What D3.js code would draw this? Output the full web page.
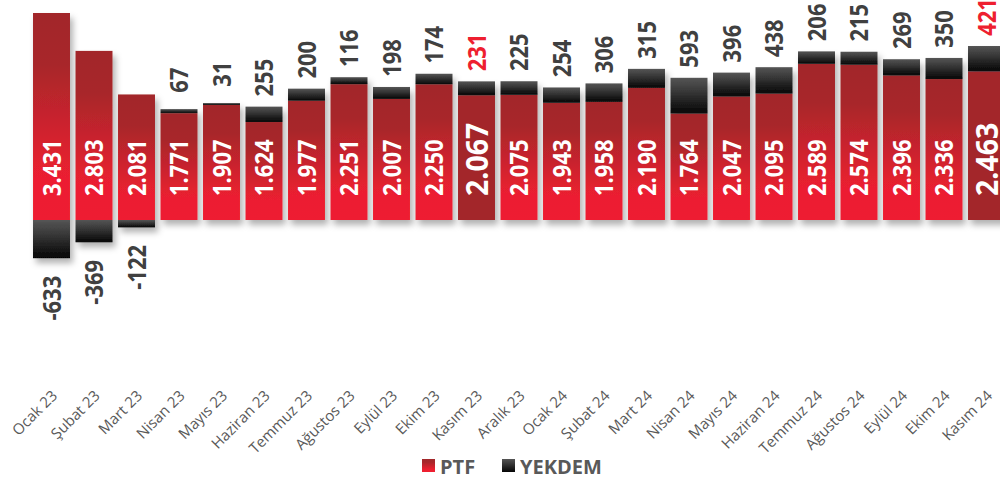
<!DOCTYPE html>
<html>
<head>
<meta charset="UTF-8">
<title>PTF ve YEKDEM</title>
<script src="https://d3js.org/d3.v7.min.js"></script>
<style>
  body { margin: 0; background: #fff; }
  svg { display: block; font-family: "Open Sans", sans-serif; }
</style>
</head>
<body>
<svg width="1000" height="482"></svg>
<script>
// monthly values (TL/MWh)
var months = ["Ocak 23", "Şubat 23", "Mart 23", "Nisan 23", "Mayıs 23", "Haziran 23", "Temmuz 23",
  "Ağustos 23", "Eylül 23", "Ekim 23", "Kasım 23", "Aralık 23", "Ocak 24", "Şubat 24", "Mart 24",
  "Nisan 24", "Mayıs 24", "Haziran 24", "Temmuz 24", "Ağustos 24", "Eylül 24", "Ekim 24", "Kasım 24"];
var ptf = [3431, 2803, 2081, 1771, 1907, 1624, 1977, 2251, 2007, 2250, 2067, 2075,
  1943, 1958, 2190, 1764, 2047, 2095, 2589, 2574, 2396, 2336, 2463];
var yekdem = [-633, -369, -122, 67, 31, 255, 200, 116, 198, 174, 231, 225,
  254, 306, 315, 593, 396, 438, 206, 215, 269, 350, 421];
var highlight = ["Kasım 23", "Kasım 24"];
var seriesNames = ["PTF", "YEKDEM"];

var data = months.map(function(m, i) {
  return { month: m, ptf: ptf[i], yek: yekdem[i], hi: highlight.indexOf(m) >= 0 };
});

var tr = d3.formatLocale({ decimal: ",", thousands: ".", grouping: [3], currency: ["", ""], minus: "-" });
var fmt = tr.format(",d");

var svg = d3.select("svg");
var defs = svg.append("defs");

function grad(id, stops) {
  var g = defs.append("linearGradient").attr("id", id)
    .attr("x1", 0).attr("y1", 0).attr("x2", 0).attr("y2", 1);
  stops.forEach(function(s) {
    g.append("stop").attr("offset", s[0]).attr("stop-color", s[1]);
  });
}
grad("redGrad", [[0, "#a2282b"], [0.25, "#a8272b"], [0.8, "#ec1f30"], [1, "#ee1f30"]]);
grad("blackGrad", [[0, "#555555"], [0.35, "#3a3a3a"], [1, "#050505"]]);

var f = defs.append("filter").attr("id", "shadow")
  .attr("x", "-20%").attr("y", "-10%").attr("width", "150%").attr("height", "130%");
f.append("feDropShadow").attr("dx", 3).attr("dy", 5).attr("stdDeviation", 3)
  .attr("flood-color", "#000").attr("flood-opacity", 0.3);

var x = d3.scaleBand()
  .domain(months)
  .range([30.25, 30.25 + months.length * 42.5])
  .paddingInner(0.13)
  .paddingOuter(0.065);

var y = d3.scaleLinear()
  .domain([0, 3431])
  .range([220, 13]);

// bars
var bars = svg.append("g").selectAll("g")
  .data(data)
  .enter().append("g")
    .attr("filter", "url(#shadow)");

bars.append("rect")
  .attr("x", function(d) { return x(d.month); })
  .attr("width", x.bandwidth())
  .attr("y", function(d) { return y(d.ptf); })
  .attr("height", function(d) { return y(0) - y(d.ptf); })
  .attr("fill", function(d) { return d.hi ? "#a3282b" : "url(#redGrad)"; });

bars.append("rect")
  .attr("x", function(d) { return x(d.month); })
  .attr("width", x.bandwidth())
  .attr("y", function(d) { return d.yek >= 0 ? y(d.ptf + d.yek) : y(0); })
  .attr("height", function(d) { return Math.abs(y(0) - y(d.yek)); })
  .attr("fill", "url(#blackGrad)");

// labels
function cx(d) { return x(d.month) + x.bandwidth() / 2; }

svg.append("g").selectAll("text")
  .data(data)
  .enter().append("text")
    .attr("transform", function(d) {
      var s = d.hi ? "scale(0.92,1)" : "scale(0.88,1)";
      return "translate(" + cx(d) + "," + (y(0) - 24) + ") rotate(-90) " + s;
    })
    .attr("dy", "0.36em")
    .attr("text-anchor", "start")
    .attr("font-weight", "bold")
    .attr("font-size", function(d) { return d.hi ? "31px" : "25px"; })
    .attr("fill", "#fff")
    .text(function(d) { return fmt(d.ptf); });

svg.append("g").selectAll("text")
  .data(data)
  .enter().append("text")
    .attr("transform", function(d) {
      var ly = d.yek >= 0 ? y(d.ptf + d.yek) - 29 : y(d.yek) + 40;
      return "translate(" + cx(d) + "," + ly + ") rotate(-90) scale(0.88,1)";
    })
    .attr("dy", "0.36em")
    .attr("text-anchor", "middle")
    .attr("font-weight", "bold")
    .attr("font-size", "25px")
    .attr("fill", function(d) { return d.hi ? "#ee1f30" : "#404040"; })
    .text(function(d) { return fmt(d.yek); });

// x axis
var axis = svg.append("g")
  .attr("transform", "translate(0,393)")
  .call(d3.axisBottom(x).tickSize(0));
axis.select(".domain").remove();
axis.selectAll("text")
  .attr("x", 0).attr("y", 0)
  .attr("dy", "0.35em")
  .attr("transform", "translate(3,0) rotate(-45)")
  .attr("text-anchor", "end")
  .attr("font-family", "Open Sans, sans-serif")
  .attr("font-size", "15px")
  .attr("fill", "#595959");

// legend
var legend = svg.append("g").selectAll("g")
  .data(seriesNames)
  .enter().append("g")
    .attr("transform", function(d, i) { return "translate(" + (422 + i * 80) + ",459)"; });

legend.append("rect")
  .attr("width", 13).attr("height", 13)
  .attr("fill", function(d, i) { return i === 0 ? "url(#redGrad)" : "url(#blackGrad)"; });

legend.append("text")
  .attr("x", 18).attr("y", 15)
  .attr("font-weight", "bold")
  .attr("font-size", "20px")
  .attr("fill", "#595959")
  .text(function(d) { return d; });
</script>
</body>
</html>
